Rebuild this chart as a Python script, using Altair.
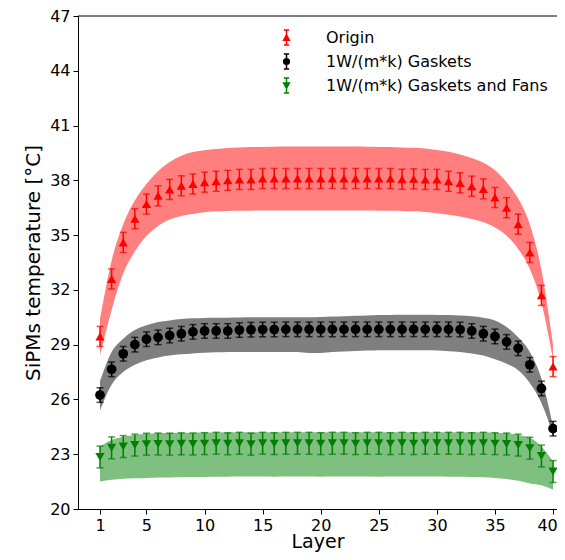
import altair as alt
import pandas as pd

layers = list(range(1, 41))
series_names = ["Origin", "1W/(m*k) Gaskets", "1W/(m*k) Gaskets and Fans"]
series_colors = ["#ff0000", "#000000", "#008000"]
series_shapes = ["triangle-up", "circle", "triangle-down"]
series_sizes = [85, 95, 85]
series_errors = [0.55, 0.4, 0.6]

origin_val = [29.45, 32.6, 34.6, 35.9, 36.7, 37.15, 37.5, 37.7, 37.8, 37.9,
              37.95, 38.0, 38.05, 38.05, 38.1, 38.1, 38.1, 38.1, 38.1, 38.1,
              38.1, 38.1, 38.1, 38.1, 38.1, 38.1, 38.06, 38.08, 38.05, 38.05,
              37.95, 37.86, 37.68, 37.53, 37.06, 36.5, 35.6, 34.05, 31.7, 27.8]
origin_hi = [30.4, 33.6, 35.6, 36.9, 37.8, 38.5, 39.0, 39.35, 39.55, 39.65,
             39.72, 39.77, 39.8, 39.82, 39.83, 39.84, 39.85, 39.85, 39.85, 39.85,
             39.85, 39.85, 39.85, 39.84, 39.83, 39.82, 39.8, 39.78, 39.74, 39.66,
             39.56, 39.42, 39.22, 38.96, 38.55, 37.9, 37.0, 35.6, 33.1, 29.0]
origin_lo = [28.4, 30.9, 32.9, 34.1, 34.95, 35.5, 35.85, 36.05, 36.15, 36.25,
             36.3, 36.32, 36.33, 36.34, 36.35, 36.35, 36.35, 36.35, 36.35, 36.35,
             36.35, 36.35, 36.35, 36.35, 36.34, 36.33, 36.32, 36.3, 36.26, 36.2,
             36.12, 36.02, 35.88, 35.7, 35.42, 34.97, 34.24, 33.15, 31.3, 28.2]

gaskets_val = [26.24, 27.65, 28.5, 29.0, 29.3, 29.4, 29.5, 29.6, 29.7, 29.75,
               29.75, 29.75, 29.8, 29.82, 29.83, 29.83, 29.84, 29.84, 29.84, 29.84,
               29.84, 29.84, 29.84, 29.84, 29.84, 29.84, 29.84, 29.84, 29.84, 29.84,
               29.84, 29.83, 29.75, 29.6, 29.45, 29.15, 28.8, 27.9, 26.6, 24.4]
gaskets_hi = [27.0, 28.6, 29.33, 29.8, 30.06, 30.24, 30.33, 30.4, 30.44, 30.46,
              30.47, 30.48, 30.49, 30.5, 30.5, 30.5, 30.5, 30.5, 30.5, 30.52,
              30.54, 30.56, 30.58, 30.6, 30.62, 30.63, 30.64, 30.64, 30.64, 30.63,
              30.62, 30.6, 30.56, 30.48, 30.33, 29.97, 29.4, 28.6, 27.15, 24.55]
gaskets_lo = [25.4, 26.8, 27.5, 27.9, 28.15, 28.3, 28.4, 28.47, 28.52, 28.56,
              28.58, 28.6, 28.6, 28.6, 28.6, 28.6, 28.6, 28.6, 28.55, 28.55,
              28.6, 28.62, 28.65, 28.68, 28.7, 28.7, 28.7, 28.7, 28.7, 28.68,
              28.64, 28.6, 28.52, 28.4, 28.2, 27.96, 27.6, 26.9, 25.8, 24.05]

fans_val = [22.85, 23.35, 23.42, 23.5, 23.55, 23.56, 23.55, 23.57, 23.56, 23.58,
            23.6, 23.57, 23.6, 23.55, 23.6, 23.58, 23.6, 23.6, 23.6, 23.58,
            23.6, 23.6, 23.58, 23.6, 23.6, 23.58, 23.6, 23.58, 23.6, 23.6,
            23.6, 23.6, 23.58, 23.6, 23.58, 23.56, 23.5, 23.33, 22.9, 22.05]
fans_hi = [23.42, 23.78, 23.96, 24.05, 24.12, 24.15, 24.17, 24.18, 24.18, 24.19,
           24.19, 24.2, 24.2, 24.2, 24.2, 24.2, 24.2, 24.2, 24.2, 24.2,
           24.2, 24.2, 24.2, 24.2, 24.2, 24.2, 24.2, 24.2, 24.2, 24.2,
           24.2, 24.2, 24.2, 24.2, 24.18, 24.15, 24.05, 23.9, 23.42, 22.6]
fans_lo = [21.5, 21.6, 21.65, 21.68, 21.7, 21.72, 21.73, 21.74, 21.75, 21.75,
           21.76, 21.77, 21.78, 21.78, 21.78, 21.77, 21.78, 21.78, 21.78, 21.77,
           21.78, 21.78, 21.78, 21.78, 21.77, 21.78, 21.78, 21.78, 21.78, 21.78,
           21.77, 21.76, 21.75, 21.74, 21.7, 21.64, 21.55, 21.4, 21.3, 21.05]

x_ticks = [1, 5, 10, 15, 20, 25, 30, 35, 40]
y_ticks = [20, 23, 26, 29, 32, 35, 38, 41, 44, 47]

legend_paths = [
    "M0,-1L0,1M-0.35,-1L0.35,-1M-0.35,1L0.35,1M0,-0.35L0.38,0.35L-0.38,0.35Z",
    "M0,-1L0,1M-0.35,-1L0.35,-1M-0.35,1L0.35,1M0.38,0A0.38,0.38,0,1,1,-0.38,0A0.38,0.38,0,1,1,0.38,0Z",
    "M0,-1L0,1M-0.35,-1L0.35,-1M-0.35,1L0.35,1M-0.38,-0.35L0.38,-0.35L0,0.35Z",
]

W, H = 479, 493
FONT = "DejaVu Sans"

vals = [origin_val, gaskets_val, fans_val]
his = [origin_hi, gaskets_hi, fans_hi]
los = [origin_lo, gaskets_lo, fans_lo]

frames = []
for name, v, hi, lo, err in zip(series_names, vals, his, los, series_errors):
    frames.append(pd.DataFrame({
        "layer": layers, "val": v, "hi": hi, "lo": lo,
        "elo": [a - err for a in v], "ehi": [a + err for a in v],
        "series": name,
    }))
df_all = pd.concat(frames, ignore_index=True)

xs = alt.Scale(domain=[-0.894, 40.34], nice=False, zero=False)
ys = alt.Scale(domain=[20, 47], nice=False, zero=False)
axis_common = dict(grid=False, domainColor="black", tickColor="black", labelColor="black",
                   titleColor="black", tickSize=5, tickWidth=1, domainWidth=1,
                   labelFontSize=16, titleFontWeight="normal",
                   labelFont=FONT, titleFont=FONT, labelPadding=3)
x_axis = alt.Axis(values=x_ticks, titlePadding=14, titleBaseline="alphabetic", titleFontSize=19,
                  labelOffset=alt.condition("datum.value == 40", alt.value(-6), alt.value(0)),
                  **axis_common)
y_axis = alt.Axis(values=y_ticks, titlePadding=6, titleFontSize=20, **axis_common)


def X():
    return alt.X("layer:Q", scale=xs, axis=x_axis, title="Layer")


def Y(field):
    return alt.Y(field, type="quantitative", scale=ys, axis=y_axis,
                 title="SiPMs temperature [°C]")


bands, marks = [], []
for df, color, shape, size in zip(frames, series_colors, series_shapes, series_sizes):
    base = alt.Chart(df)
    bands.append(base.mark_area(color=color, opacity=0.5, interpolate="monotone")
                 .encode(x=X(), y=Y("lo"), y2="hi"))
    marks.append(base.mark_rule(color=color, strokeWidth=1.5)
                 .encode(x=X(), y=Y("elo"), y2="ehi"))
    marks.append(base.mark_tick(color=color, thickness=1.5, size=7, orient="horizontal")
                 .encode(x=X(), y=Y("elo")))
    marks.append(base.mark_tick(color=color, thickness=1.5, size=7, orient="horizontal")
                 .encode(x=X(), y=Y("ehi")))
    marks.append(base.mark_point(filled=True, shape=shape, size=size, color=color, opacity=1)
                 .encode(x=X(), y=Y("val")))

leg = alt.Legend(title=None, orient="none", legendX=200, legendY=13, padding=0,
                 labelFontSize=16, labelFont=FONT, labelColor="black", labelOffset=31,
                 symbolSize=225, symbolStrokeWidth=1.5, symbolOpacity=1, rowPadding=3,
                 labelLimit=400)
legend_layer = alt.Chart(df_all).mark_point(filled=True, opacity=0, strokeWidth=1.5).encode(
    x=X(), y=Y("val"),
    fill=alt.Fill("series:N", scale=alt.Scale(domain=series_names, range=series_colors), legend=leg),
    stroke=alt.Stroke("series:N", scale=alt.Scale(domain=series_names, range=series_colors), legend=leg),
    shape=alt.Shape("series:N", scale=alt.Scale(domain=series_names, range=legend_paths), legend=leg),
)

frame_df = pd.DataFrame({"k": [0]})
top_spine = alt.Chart(frame_df).mark_rule(color="black", strokeWidth=1).encode(
    x=alt.value(0), x2=alt.value(W), y=alt.value(0))

chart = alt.layer(*bands, *marks, legend_layer, top_spine).properties(
    width=W, height=H,
    padding={"left": 70, "top": 8, "right": 0, "bottom": 43},
    autosize=alt.AutoSizeParams(type="none"),
).configure(font=FONT).configure_view(stroke=None)

chart.save("out.html", embed_options={"renderer": "svg", "actions": False})
